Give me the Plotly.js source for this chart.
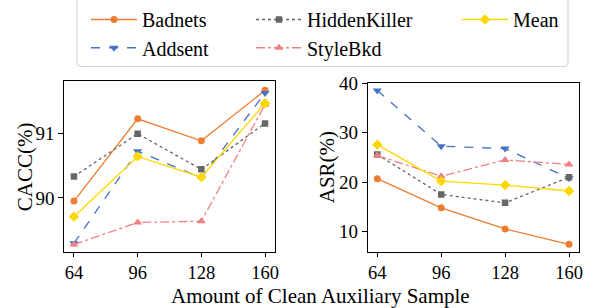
<!DOCTYPE html>
<html>
<head>
<meta charset="utf-8">
<script src="https://cdn.plot.ly/plotly-3.0.1.min.js"></script>
<style>html,body{margin:0;padding:0;background:#fff;}#chart{width:599px;height:308px;}</style>
</head>
<body>
<div id="chart"></div>
<script>
const samples = [64, 96, 128, 160];
const seriesNames = ['Badnets', 'Addsent', 'HiddenKiller', 'StyleBkd', 'Mean'];
const caccBadnets = [89.95, 91.22, 90.88, 91.66];
const caccAddsent = [89.30, 90.72, 90.31, 91.62];
const caccHiddenKiller = [90.33, 90.99, 90.44, 91.15];
const caccStyleBkd = [89.28, 89.62, 89.64, 91.44];
const caccMean = [89.71, 90.64, 90.32, 91.46];
const asrBadnets = [20.7, 14.8, 10.5, 7.4];
const asrAddsent = [38.6, 27.3, 26.8, 20.8];
const asrHiddenKiller = [25.6, 17.5, 15.8, 21.0];
const asrStyleBkd = [25.4, 21.2, 24.5, 23.6];
const asrMean = [27.6, 20.2, 19.4, 18.2];
const xTicks = ['64', '96', '128', '160'];
const caccTicks = [90, 91];
const asrTicks = [10, 20, 30, 40];

const FONT = 'Liberation Serif';
const styles = {
  Badnets:      {color: '#ED7D31', dash: 'solid',   symbol: 'circle',        size: 7},
  Addsent:      {color: '#4472C4', dash: 'dash',    symbol: 'triangle-down', size: 8},
  HiddenKiller: {color: '#666666', dash: 'dot',     symbol: 'square',        size: 6.5},
  StyleBkd:     {color: '#F08080', dash: 'dashdot', symbol: 'triangle-up',   size: 8},
  Mean:         {color: '#FFD700', dash: 'solid',   symbol: 'diamond',       size: 8}
};
const cacc = {Badnets: caccBadnets, Addsent: caccAddsent, HiddenKiller: caccHiddenKiller, StyleBkd: caccStyleBkd, Mean: caccMean};
const asr = {Badnets: asrBadnets, Addsent: asrAddsent, HiddenKiller: asrHiddenKiller, StyleBkd: asrStyleBkd, Mean: asrMean};
const legendOf = {Badnets: 'legend', Addsent: 'legend2', HiddenKiller: 'legend3', StyleBkd: 'legend4', Mean: 'legend5'};

const traces = [];
seriesNames.forEach(n => {
  const s = styles[n];
  const common = {x: samples, type: 'scatter', mode: 'lines+markers', name: n,
    line: {color: s.color, dash: s.dash, width: 1.3},
    marker: {color: s.color, symbol: s.symbol, size: s.size, line: {width: 0}}};
  traces.push(Object.assign({}, common, {y: cacc[n], xaxis: 'x', yaxis: 'y', showlegend: true, legend: legendOf[n]}));
  traces.push(Object.assign({}, common, {y: asr[n], xaxis: 'x2', yaxis: 'y2', showlegend: false}));
});

const W = 599, H = 308;
const px = v => v / W, py = v => 1 - v / H;

function axisX(domain) {
  return {domain: domain, range: [59.2, 164.8], tickmode: 'array', tickvals: samples, ticktext: xTicks,
    showline: true, mirror: true, linecolor: '#000', linewidth: 1, ticks: 'outside', ticklen: 4, tickwidth: 1,
    tickcolor: '#000', showgrid: false, zeroline: false, tickfont: {family: FONT, size: 18.5, color: '#000'}};
}
function axisY(domain, range, tv) {
  return {domain: domain, range: range, tickmode: 'array', tickvals: tv,
    showline: true, mirror: true, linecolor: '#000', linewidth: 1, ticks: 'outside', ticklen: 5, tickwidth: 1,
    tickcolor: '#000', showgrid: false, zeroline: false, tickfont: {family: FONT, size: 19, color: '#000'}};
}

function legendAt(xPix, yPix) {
  return {x: px(xPix), y: py(yPix), xanchor: 'left', yanchor: 'middle', orientation: 'v',
    bgcolor: 'rgba(0,0,0,0)', borderwidth: 0, itemwidth: 46,
    font: {family: FONT, size: 20, color: '#000'}};
}

// rounded legend frame
const bx0 = 77, bx1 = 568, by0 = -10, by1 = 61, r = 4;
const framePath = `M ${px(bx0)} ${py(by0)} L ${px(bx0)} ${py(by1 - r)} Q ${px(bx0)} ${py(by1)} ${px(bx0 + r)} ${py(by1)} ` +
  `L ${px(bx1 - r)} ${py(by1)} Q ${px(bx1)} ${py(by1)} ${px(bx1)} ${py(by1 - r)} L ${px(bx1)} ${py(by0)}`;

const layout = {
  width: W, height: H,
  margin: {l: 0, r: 0, t: 0, b: 0},
  paper_bgcolor: '#fff', plot_bgcolor: '#fff',
  font: {family: FONT, color: '#000'},
  xaxis: axisX([px(64.4), px(274.6)]),
  yaxis: axisY([py(251), py(76)], [89.16, 91.80], caccTicks),
  xaxis2: Object.assign(axisX([px(367.7), px(578.6)]), {anchor: 'y2'}),
  yaxis2: Object.assign(axisY([py(250.7), py(77.7)], [5.83, 40.12], asrTicks), {anchor: 'x2'}),
  legend: legendAt(86, 12.7),
  legend2: legendAt(86, 41.7),
  legend3: legendAt(251, 12.7),
  legend4: legendAt(251, 41.7),
  legend5: legendAt(457, 12.7),
  shapes: [{type: 'path', xref: 'paper', yref: 'paper', path: framePath, line: {color: '#d0d0d0', width: 1}, fillcolor: 'rgba(0,0,0,0)'}],
  annotations: [
    {text: 'CACC(%)', xref: 'paper', yref: 'paper', x: px(24.5), y: py(163.5), textangle: -90, showarrow: false,
      xanchor: 'center', yanchor: 'middle', font: {family: FONT, size: 21, color: '#000'}},
    {text: 'ASR(%)', xref: 'paper', yref: 'paper', x: px(327), y: py(164), textangle: -90, showarrow: false,
      xanchor: 'center', yanchor: 'middle', font: {family: FONT, size: 21, color: '#000'}},
    {text: 'Amount of Clean Auxiliary Sample', xref: 'paper', yref: 'paper', x: px(320.5), y: py(295.5), showarrow: false,
      xanchor: 'center', yanchor: 'middle', font: {family: FONT, size: 21, color: '#000'}}
  ]
};

Plotly.newPlot('chart', traces, layout, {displayModeBar: false, staticPlot: true});
</script>
</body>
</html>
